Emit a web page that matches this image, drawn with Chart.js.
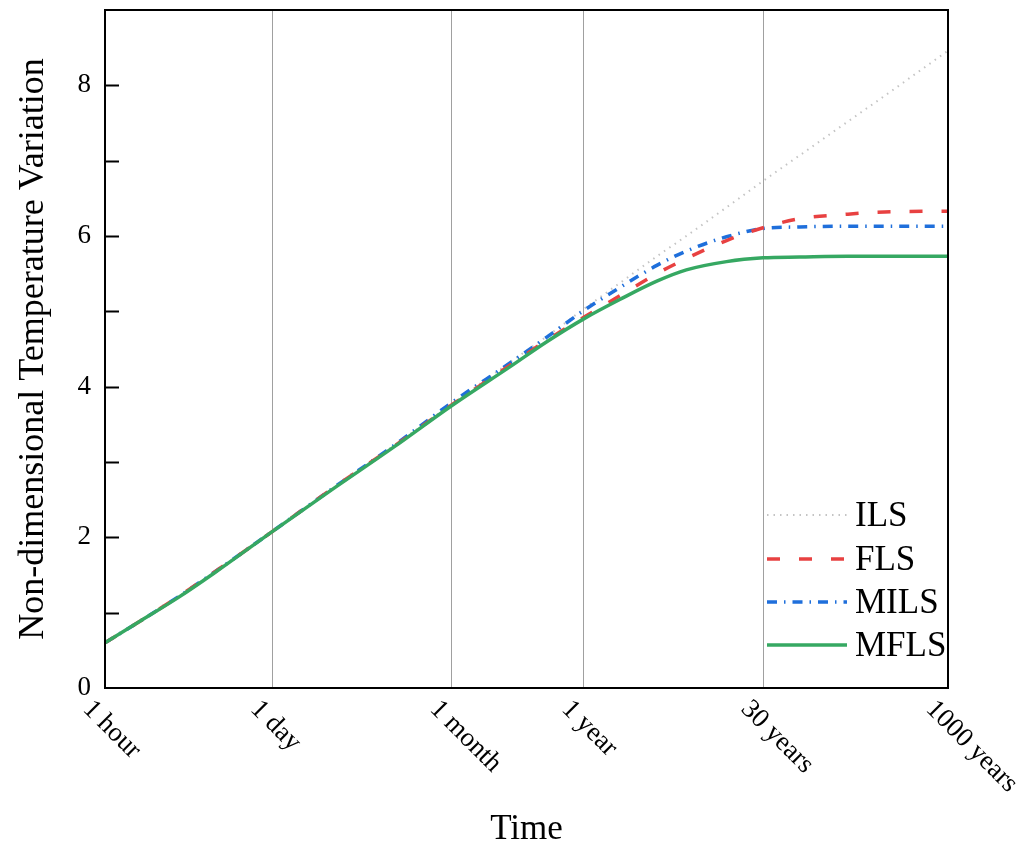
<!DOCTYPE html>
<html>
<head>
<meta charset="utf-8">
<script src="https://cdn.jsdelivr.net/npm/chart.js@4.4.0/dist/chart.umd.min.js"></script>
<style>
    body { margin: 0; background: #ffffff; }
    #wrap { width: 1029px; height: 852px; }
</style>
</head>
<body>
<div id="wrap"><canvas id="tempChart"></canvas></div>
<script>
// time in hours (log axis)
const hours = [1, 2, 4, 8, 24, 72, 240, 720, 2190, 4380, 8760, 17520, 35040, 61320, 131400, 262800, 525600, 1314000, 2628000, 8760000];

const ils  = [0.60, 0.90, 1.21, 1.54, 2.08, 2.63, 3.22, 3.77, 4.33, 4.67, 5.03, 5.38, 5.73, 6.00, 6.38, 6.73, 7.07, 7.52, 7.86, 8.46];
const fls  = [0.60, 0.90, 1.21, 1.54, 2.08, 2.63, 3.21, 3.76, 4.29, 4.62, 4.92, 5.21, 5.50, 5.70, 5.94, 6.11, 6.23, 6.29, 6.32, 6.33];
const mils = [0.60, 0.90, 1.21, 1.54, 2.08, 2.63, 3.22, 3.79, 4.32, 4.66, 5.01, 5.32, 5.61, 5.80, 5.99, 6.10, 6.12, 6.13, 6.13, 6.13];
const mfls = [0.60, 0.90, 1.20, 1.53, 2.08, 2.62, 3.20, 3.75, 4.27, 4.60, 4.90, 5.16, 5.40, 5.55, 5.66, 5.71, 5.72, 5.73, 5.73, 5.73];

const tickHours = [1, 24, 720, 8760, 262800, 8760000];
const tickLabels = ['1 hour', '1 day', '1 month', '1 year', '30 years', '1000 years'];

const serif = "'Liberation Serif', 'Times New Roman', serif";

function points(values) {
    return hours.map((h, i) => ({ x: h, y: values[i] }));
}

function noPadding(scale) {
    scale.paddingTop = 0;
    scale.paddingBottom = 0;
    scale.paddingLeft = 0;
    scale.paddingRight = 0;
}

const framePlugin = {
    id: 'frame',
    afterDraw(chart) {
        const ctx = chart.ctx;
        const a = chart.chartArea;
        const x = chart.scales.x;
        const y = chart.scales.y;

        ctx.save();
        // inward ticks on the y axis
        ctx.strokeStyle = '#000000';
        ctx.lineWidth = 2;
        for (let v = 1; v <= 8; v++) {
            const py = Math.round(y.getPixelForValue(v)) + 0.5;
            ctx.beginPath();
            ctx.moveTo(a.left, py);
            ctx.lineTo(a.left + 14, py);
            ctx.stroke();
        }
        // box
        ctx.strokeRect(a.left, a.top, a.right - a.left, a.bottom - a.top);

        // rotated x tick labels
        ctx.fillStyle = '#000000';
        ctx.font = '27px ' + serif;
        ctx.textAlign = 'left';
        ctx.textBaseline = 'middle';
        tickHours.forEach((h, i) => {
            const px = x.getPixelForValue(h);
            ctx.save();
            ctx.translate(px - 18, a.bottom + 17);
            ctx.rotate(Math.PI / 4);
            ctx.fillText(tickLabels[i], 0, 0);
            ctx.restore();
        });

        // legend
        const rows = [515, 559, 602, 645];
        ctx.font = '35px ' + serif;
        chart.data.datasets.forEach((ds, i) => {
            const ly = rows[i];
            ctx.save();
            ctx.strokeStyle = ds.borderColor;
            ctx.lineWidth = ds.borderWidth;
            ctx.setLineDash(ds.borderDash || []);
            ctx.beginPath();
            ctx.moveTo(767, ly);
            ctx.lineTo(847, ly);
            ctx.stroke();
            ctx.restore();
            ctx.fillText(ds.label, 855, ly + 2);
        });
        ctx.restore();
    }
};

new Chart(document.getElementById('tempChart'), {
    type: 'line',
    data: {
        datasets: [
            {
                label: 'ILS',
                data: points(ils),
                borderColor: '#c4c4c4',
                borderWidth: 2,
                borderDash: [1.5, 5],
                order: 3
            },
            {
                label: 'FLS',
                data: points(fls),
                borderColor: '#e84141',
                borderWidth: 3.5,
                borderDash: [13, 19],
                order: 1
            },
            {
                label: 'MILS',
                data: points(mils),
                borderColor: '#1f6fdb',
                borderWidth: 3.5,
                borderDash: [10, 7, 1.5, 7],
                order: 2
            },
            {
                label: 'MFLS',
                data: points(mfls),
                borderColor: '#36a862',
                borderWidth: 3.5,
                order: 0
            }
        ]
    },
    options: {
        responsive: true,
        maintainAspectRatio: false,
        animation: false,
        layout: {
            padding: { top: 10, right: 81, left: 0, bottom: 0 }
        },
        elements: {
            point: { radius: 0 },
            line: { cubicInterpolationMode: 'monotone', fill: false }
        },
        plugins: {
            legend: { display: false },
            tooltip: { enabled: false }
        },
        scales: {
            x: {
                type: 'logarithmic',
                min: 1,
                max: 8760000,
                afterBuildTicks: function(scale) {
                    scale.ticks = tickHours.map(v => ({ value: v }));
                },
                afterFit: function(scale) {
                    scale.height = 164;
                    noPadding(scale);
                },
                ticks: {
                    display: false
                },
                grid: {
                    color: '#a0a0a0',
                    lineWidth: 1,
                    drawTicks: false
                },
                border: {
                    display: false
                },
                title: {
                    display: true,
                    text: 'Time',
                    color: '#000000',
                    font: { family: serif, size: 35 },
                    padding: { top: 0, bottom: 1 }
                }
            },
            y: {
                min: 0,
                max: 9,
                afterFit: function(scale) {
                    scale.width = 105;
                    noPadding(scale);
                },
                ticks: {
                    stepSize: 1,
                    padding: 14,
                    color: '#000000',
                    font: { family: serif, size: 27 },
                    callback: function(value) {
                        return value % 2 === 0 && value <= 8 ? String(value) : '';
                    }
                },
                grid: {
                    display: false,
                    drawTicks: false
                },
                border: {
                    display: false
                },
                title: {
                    display: true,
                    text: 'Non-dimensional Temperature Variation',
                    color: '#000000',
                    font: { family: serif, size: 36 },
                    padding: { top: 12, bottom: 0 }
                }
            }
        }
    },
    plugins: [framePlugin]
});
</script>
</body>
</html>
